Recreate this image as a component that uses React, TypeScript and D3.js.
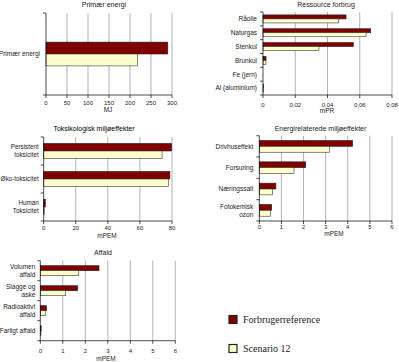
import * as d3 from 'd3';

// Primær energi
const primCategories = ['Primær energi'];
const primRef = [290];
const primScen = [218];
const primTicks = [0, 50, 100, 150, 200, 250, 300];

// Ressource forbrug
const resCategories = ['Råolie', 'Naturgas', 'Stenkul', 'Brunkul', 'Fe (jern)', 'Al (aluminium)'];
const resRef = [0.0515, 0.0668, 0.056, 0.0019, 0, 0.0002];
const resScen = [0.047, 0.0639, 0.0347, 0.0018, 0, 0.0002];
const resTicks = [0, 0.02, 0.04, 0.06, 0.08];

// Toksikologisk miljøeffekter
const toxCategories = ['Persistent\ntoksicitet', 'Øko-toksicitet', 'Human\nToksicitet'];
const toxRef = [79.8, 78.7, 1.0];
const toxScen = [73.8, 77.9, 0.3];
const toxTicks = [0, 20, 40, 60, 80];

// Energirelaterede miljøeffekter
const energyCategories = ['Drivhuseffekt', 'Forsuring', 'Næringssalt', 'Fotokemisk\nozon'];
const energyRef = [4.22, 2.1, 0.75, 0.56];
const energyScen = [3.17, 1.57, 0.6, 0.51];
const energyTicks = [0, 1, 2, 3, 4, 5, 6];

// Affald
const wasteCategories = ['Volumen\naffald', 'Slagge og\naske', 'Radioaktivt\naffald', 'Farligt affald'];
const wasteRef = [2.61, 1.66, 0.28, 0.04];
const wasteScen = [1.71, 1.13, 0.22, 0.03];
const wasteTicks = [0, 1, 2, 3, 4, 5, 6];

const seriesNames = ['Forbrugerreference', 'Scenario 12'];

const RED = '#800000';
const CREAM = '#ffffcc';
const GRID = '#a0a0a0';
const FONT = '"Liberation Sans", Arial, sans-serif';

interface PanelProps {
  title: string;
  titleX: number;
  titleY: number;
  titleColor?: string;
  axisLabel: string;
  axisLabelX: number;
  axisLabelY: number;
  categories: string[];
  ref1: number[];
  scen: number[];
  ticks: number[];
  left: number;
  right: number;
  top: number;
  bottom: number;
  fill: number;
  tickLabelY: number;
  labelGap?: number;
  labelSize?: number;
}

function Panel(p: PanelProps) {
  const max = p.ticks[p.ticks.length - 1];
  const x = d3.scaleLinear().domain([0, max]).range([p.left, p.right]);
  const y = d3.scaleBand<string>().domain(p.categories).range([p.top, p.bottom]);
  const bw = y.bandwidth();
  const barH = (bw * p.fill) / 2;
  const fmt = (v: number) => String(v).replace('.', ',');
  const gap = p.labelGap ?? 6;

  return (
    <g fontFamily={FONT}>
      <text x={p.titleX} y={p.titleY} fontSize={7} textAnchor="middle" fill={p.titleColor ?? '#222'}>
        {p.title}
      </text>
      {p.ticks.slice(1).map(t => (
        <line key={'g' + t} x1={x(t)} x2={x(t)} y1={p.top} y2={p.bottom} stroke={GRID} strokeWidth={0.8} />
      ))}
      {p.categories.map((c, i) => {
        const cy = (y(c) ?? 0) + bw / 2;
        const y0 = cy - barH;
        return (
          <g key={c}>
            <rect x={x(0)} y={y0} width={Math.max(0, x(p.ref1[i]) - x(0))} height={barH} fill={RED} stroke="#222" strokeWidth={0.6} />
            <rect x={x(0)} y={y0 + barH} width={Math.max(0, x(p.scen[i]) - x(0))} height={barH} fill={CREAM} stroke="#333" strokeWidth={0.6} />
          </g>
        );
      })}
      {/* category axis */}
      <line x1={p.left} x2={p.left} y1={p.top} y2={p.bottom} stroke="#000" strokeWidth={0.7} />
      {[...p.categories.map(c => y(c) ?? 0), p.bottom].map((v, i) => (
        <line key={'ct' + i} x1={p.left - 3} x2={p.left} y1={v} y2={v} stroke="#000" strokeWidth={0.7} />
      ))}
      {p.categories.map(c => {
        const lines = c.split('\n');
        const cy = (y(c) ?? 0) + bw / 2;
        return (
          <text key={'l' + c} x={p.left - gap} y={cy} fontSize={p.labelSize ?? 6.5} textAnchor="end" fill="#222">
            {lines.map((ln, j) => (
              <tspan key={j} x={p.left - gap} y={cy + 2.3 + (j - (lines.length - 1) / 2) * 8}>
                {ln}
              </tspan>
            ))}
          </text>
        );
      })}
      {/* value axis */}
      <line x1={p.left} x2={p.right} y1={p.bottom} y2={p.bottom} stroke="#000" strokeWidth={0.7} />
      {p.ticks.map(t => (
        <g key={'t' + t}>
          <line x1={x(t)} x2={x(t)} y1={p.bottom} y2={p.bottom + 3} stroke="#000" strokeWidth={0.7} />
          <text x={x(t)} y={p.tickLabelY} fontSize={6} textAnchor="middle" fill="#222">
            {fmt(t)}
          </text>
        </g>
      ))}
      <text x={p.axisLabelX} y={p.axisLabelY} fontSize={6.5} textAnchor="middle" fill="#222">
        {p.axisLabel}
      </text>
    </g>
  );
}

export default function App() {
  const legendColors = [RED, CREAM];
  const legendY = d3.scalePoint<string>().domain(seriesNames).range([319.5, 348.5]);
  return (
    <svg width={399} height={362} style={{ position: 'absolute', left: 0, top: 0, background: '#fff' }}>
      <Panel title="Primær energi" titleX={104} titleY={7} axisLabel="MJ" axisLabelX={108} axisLabelY={112}
        categories={primCategories} ref1={primRef} scen={primScen} ticks={primTicks}
        left={46} right={172} top={13} bottom={95} fill={0.29} tickLabelY={105} />
      <Panel title="Ressource forbrug" titleX={326} titleY={7} axisLabel="mPR" axisLabelX={327} axisLabelY={113}
        categories={resCategories} ref1={resRef} scen={resScen} ticks={resTicks}
        left={263} right={392} top={12} bottom={95} fill={0.58} tickLabelY={107} />
      <Panel title="Toksikologisk miljøeffekter" titleX={94} titleY={131} titleColor="#000" axisLabel="mPEM" axisLabelX={107} axisLabelY={237.5}
        categories={toxCategories} ref1={toxRef} scen={toxScen} ticks={toxTicks}
        left={43.7} right={172} top={137} bottom={221} fill={0.54} tickLabelY={230} labelGap={5} labelSize={6.3} />
      <Panel title="Energirelaterede miljøeffekter" titleX={320.5} titleY={131} axisLabel="mPEM" axisLabelX={334} axisLabelY={236}
        categories={energyCategories} ref1={energyRef} scen={energyScen} ticks={energyTicks}
        left={259.3} right={392} top={135.7} bottom={221} fill={0.55} tickLabelY={229} />
      <Panel title="Affald" titleX={103} titleY={255} axisLabel="mPEM" axisLabelX={106} axisLabelY={360.5}
        categories={wasteCategories} ref1={wasteRef} scen={wasteScen} ticks={wasteTicks}
        left={40.3} right={175.3} top={260.7} bottom={340.7} fill={0.5} tickLabelY={353} labelGap={5} />
      {seriesNames.map((s, i) => {
        const cy = legendY(s) ?? 0;
        return (
          <g key={s}>
            <rect x={229} y={cy - 4} width={8} height={8} fill={legendColors[i]} stroke="#222" strokeWidth={1.2} />
            <text x={243} y={cy + 3.3} fontSize={10} fontFamily='"Liberation Serif", "Times New Roman", serif' fill="#222">
              {s}
            </text>
          </g>
        );
      })}
    </svg>
  );
}
